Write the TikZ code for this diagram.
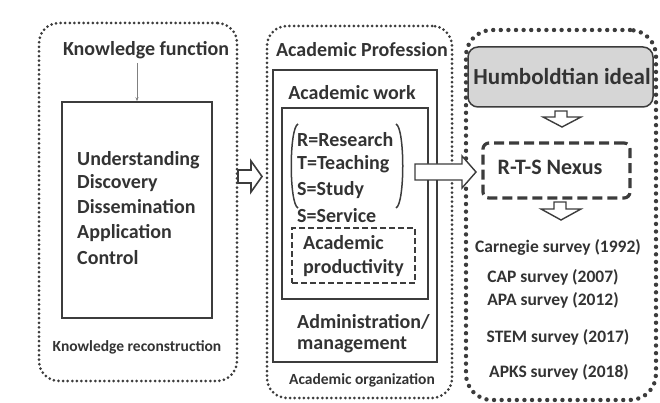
\documentclass[tikz,border=0pt]{standalone}
\usepackage{fontspec}
\setmainfont{Carlito}
\usetikzlibrary{arrows.meta}
\definecolor{ink}{HTML}{333333}
\definecolor{lineink}{HTML}{3C3C3C}
\definecolor{idealfill}{HTML}{D6D6D6}
\begin{document}
\begin{tikzpicture}[x=1pt,y=-1pt,
  lbl/.style={font=\bfseries\fontsize{20}{24}\selectfont, text=ink, inner sep=0pt},
  smalllbl/.style={font=\bfseries\fontsize{15.5}{18}\selectfont, text=ink, inner sep=0pt},
  surveylbl/.style={font=\bfseries\fontsize{17.5}{21}\selectfont, text=ink, inner sep=0pt},
  panel/.style={draw=lineink, line width=3pt, line cap=round,
    dash pattern=on 0pt off 4.6pt, rounded corners=20pt, inner sep=0pt},
  bigpanel/.style={draw=lineink, line width=4.4pt, line cap=round,
    dash pattern=on 0pt off 7.6pt, rounded corners=26pt, inner sep=0pt},
  solidbox/.style={draw=lineink, line width=1.5pt, inner sep=0pt},
  dashbox/.style={draw=lineink, line width=1.4pt, dash pattern=on 6pt off 3pt, inner sep=0pt},
  nexusbox/.style={draw=lineink, line width=3.2pt, dash pattern=on 10pt off 5pt,
    rounded corners=6pt, inner sep=0pt},
  idealbox/.style={draw=lineink, line width=1.5pt, fill=idealfill, rounded corners=10pt, inner sep=0pt},
  blockarrow/.style={draw=lineink, fill=white, line width=1.6pt, line join=miter},
  paren/.style={draw=lineink, line width=1.5pt},
  smallarrow/.style={draw=gray, line width=0.8pt, -{Stealth[length=4pt,width=3pt]}}
]
\useasboundingbox (0,0) rectangle (660,403);

% ---- knowledge column ----
\node[panel, minimum width=198, minimum height=358] (kpanel) at (138,202) {};
\node[lbl] (kf) at (146,50) {Knowledge function};
\node[solidbox, minimum width=150, minimum height=216] (kbox) at (137,210) {};
\node[lbl, anchor=west] (k1) at (77,160) {Understanding};
\node[lbl, anchor=west] (k2) at (77,183) {Discovery};
\node[lbl, anchor=west] (k3) at (77,207) {Dissemination};
\node[lbl, anchor=west] (k4) at (77,233) {Application};
\node[lbl, anchor=west] (k5) at (77,258) {Control};
\node[smalllbl] (kr) at (137,347) {Knowledge reconstruction};
\draw[smallarrow, shorten <=4pt] (kbox.north |- kf.south) -- (kbox.north);

% ---- academic profession column ----
\node[panel, minimum width=185, minimum height=372] (apanel) at (359.5,212) {};
\node[lbl] (ap) at (362,50) {Academic Profession};
\node[solidbox, minimum width=164, minimum height=292] (awbox) at (355,216) {};
\node[lbl] (aw) at (352,93) {Academic work};
\node[solidbox, minimum width=146, minimum height=191] (rtsbox) at (355,203.5) {};
\node[lbl, anchor=west] (r) at (297,140) {R=Research};
\node[lbl, anchor=west] (t) at (297,164) {T=Teaching};
\node[lbl, anchor=west] (s1) at (297,190) {S=Study};
\node[lbl, anchor=west] (s2) at (297,216) {S=Service};
\draw[paren] (298,124) .. controls (289,128) and (289,204) .. (298,208);
\draw[paren] (396,124) .. controls (405,128) and (405,204) .. (396,208);
\node[dashbox, minimum width=123, minimum height=55] (prodbox) at (353.5,255.5) {};
\node[lbl, anchor=west] (prod1) at (303,243) {Academic};
\node[lbl, anchor=west] (prod2) at (303,268) {productivity};
\node[lbl, anchor=west] (adm1) at (297,322) {Administration/};
\node[lbl, anchor=west] (adm2) at (297,345) {management};
\node[smalllbl] (ao) at (362,380) {Academic organization};

% ---- nexus column ----
\node[bigpanel, minimum width=190, minimum height=370] (npanel) at (561,215) {};
\node[idealbox, minimum width=185, minimum height=60] (ideal) at (560.5,77) {};
\node[font=\bfseries\fontsize{23}{27}\selectfont, text=ink, inner sep=0pt] (idealtxt) at (562,77) {Humboldtian ideal};
\node[nexusbox, minimum width=147, minimum height=55] (nexus) at (556.5,170.5) {};
\node[font=\bfseries\fontsize{22}{26}\selectfont, text=ink, inner sep=0pt] (nexustxt) at (550,167) {R-T-S Nexus};
\node[surveylbl] (sv1) at (558,247) {Carnegie survey (1992)};
\node[surveylbl] (sv2) at (553,277) {CAP survey (2007)};
\node[surveylbl] (sv3) at (553,300) {APA survey (2012)};
\node[surveylbl] (sv4) at (558,337) {STEM survey (2017)};
\node[surveylbl] (sv5) at (559,372) {APKS survey (2018)};

% ---- block arrows ----
\draw[blockarrow] (238,170) -- (251,170) -- (251,161) -- (262,176.5)
  -- (251,192) -- (251,183) -- (238,183) -- cycle;
\draw[blockarrow, line width=1.4pt] (415,164) -- (462,164) -- (462,156) -- (476,172)
  -- (462,188) -- (462,180) -- (415,180) -- cycle;
\draw[blockarrow, line width=1.4pt] (555,111) -- (567,111) -- (567,117) -- (581,117)
  -- (562,127) -- (543,117) -- (555,117) -- cycle;
\draw[blockarrow, line width=1.4pt] (554,202) -- (566,202) -- (566,209) -- (581,209)
  -- (561,220) -- (541,209) -- (554,209) -- cycle;
\end{tikzpicture}
\end{document}
